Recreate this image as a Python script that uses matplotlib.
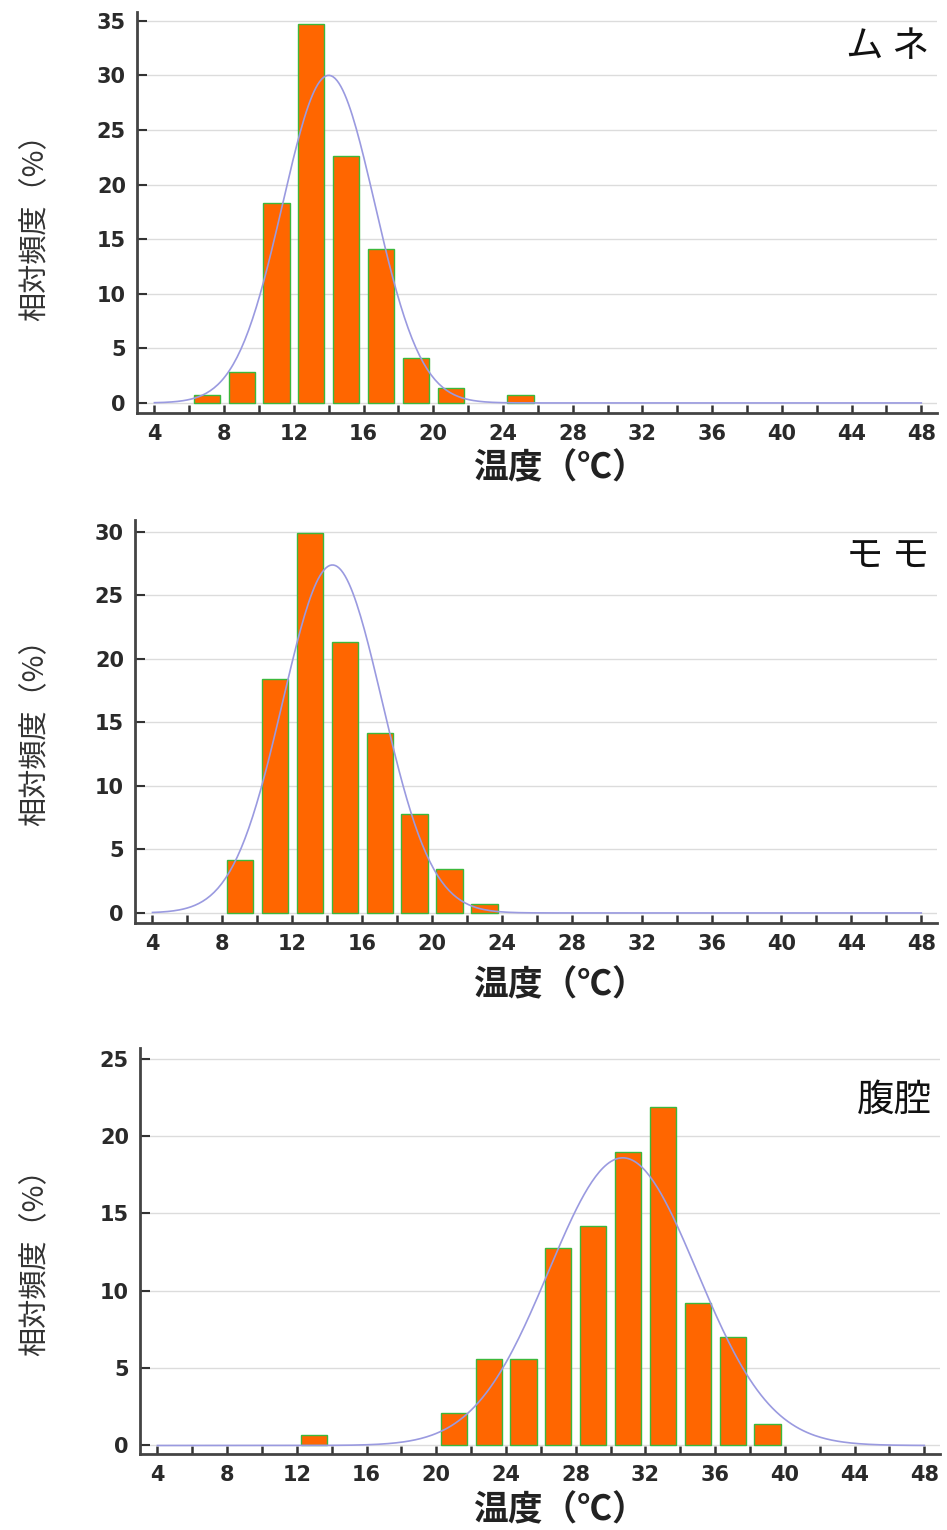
import numpy as np
import matplotlib.pyplot as plt

# 温度の階級（中央値）と相対頻度(%)
bins_mune = [7, 9, 11, 13, 15, 17, 19, 21, 25]
freq_mune = [0.7, 2.8, 18.3, 34.7, 22.6, 14.1, 4.1, 1.4, 0.7]

bins_momo = [9, 11, 13, 15, 17, 19, 21, 23]
freq_momo = [4.2, 18.4, 29.9, 21.3, 14.2, 7.8, 3.5, 0.7]

bins_fuku = [13, 21, 23, 25, 27, 29, 31, 33, 35, 37, 39]
freq_fuku = [0.7, 2.1, 5.6, 5.6, 12.8, 14.2, 19.0, 21.9, 9.2, 7.0, 1.4]

# 正規分布の当てはめ曲線 (平均, 標準偏差, ピーク)
fit_mune = (14.0, 2.65, 30.0)
fit_momo = (14.3, 2.85, 27.4)
fit_fuku = (30.7, 4.25, 18.6)

names = ["ム ネ", "モ モ", "腹腔"]

jp = ["Noto Sans CJK JP", "DejaVu Sans"]
num = ["DejaVu Sans"]

fig = plt.figure(figsize=(9.47, 15.30), dpi=100)
W, H = 947, 1530

# 位置はピクセルで [left, top, right, bottom]
panels = [
    dict(px=(137, 12, 937, 413), ylim=(-0.92, 35.8), yt=range(0, 36, 5),
         bins=bins_mune, freq=freq_mune, fit=fit_mune, ty=0.913, lab_y=468, ylab_y=220),
    dict(px=(135, 520, 937, 923), ylim=(-0.79, 30.94), yt=range(0, 31, 5),
         bins=bins_momo, freq=freq_momo, fit=fit_momo, ty=0.906, lab_y=985, ylab_y=725),
    dict(px=(140, 1048, 940, 1454), ylim=(-0.55, 25.7), yt=range(0, 26, 5),
         bins=bins_fuku, freq=freq_fuku, fit=fit_fuku, ty=0.872, lab_y=1510, ylab_y=1255),
]

xs = np.linspace(4, 48, 400)

for name, p in zip(names, panels):
    l, t, r, b = p["px"]
    ax = fig.add_axes([l / W, 1 - b / H, (r - l) / W, (b - t) / H])

    ax.set_axisbelow(True)
    ax.grid(axis="y", color="#dcdcdc", lw=1)
    ax.bar(p["bins"], p["freq"], width=1.5, color="#ff6600",
           edgecolor="#3cb83c", linewidth=1, zorder=2)

    m, s, pk = p["fit"]
    ax.plot(xs, pk * np.exp(-0.5 * ((xs - m) / s) ** 2),
            color="#9a9ae0", lw=1.2, zorder=3)

    ax.set_xlim(3.0, 48.9)
    ax.set_ylim(*p["ylim"])
    ax.set_xticks(range(4, 49, 4))
    ax.set_xticks(range(4, 49, 2), minor=True)
    ax.set_yticks(list(p["yt"]))

    for sp in ["top", "right"]:
        ax.spines[sp].set_visible(False)
    for sp in ["left", "bottom"]:
        ax.spines[sp].set_color("#444444")
        ax.spines[sp].set_linewidth(2)

    ax.tick_params(axis="x", which="both", direction="in", length=6,
                   width=1.8, color="#333333", pad=8)
    ax.tick_params(axis="y", direction="in", length=7, width=1.5,
                   color="#333333", pad=8)
    for lab in ax.get_xticklabels() + ax.get_yticklabels():
        lab.set_fontfamily(num)
        lab.set_fontsize(15)
        lab.set_fontweight("bold")
        lab.set_color("#2a2a2a")

    ax.text(0.99, p["ty"], name, transform=ax.transAxes, ha="right",
            va="center", fontsize=27, family=jp, color="#111111")

    fig.text(560 / W, 1 - p["lab_y"] / H, "温度（℃）", ha="center",
             va="center", fontsize=25, fontweight="bold", family=jp,
             color="#222222")
    fig.text(35 / W, 1 - p["ylab_y"] / H, "相対頻度（%）", ha="center",
             va="center", rotation=90, fontsize=21, family=jp,
             color="#333333")

fig.savefig("out.png", dpi=100)
